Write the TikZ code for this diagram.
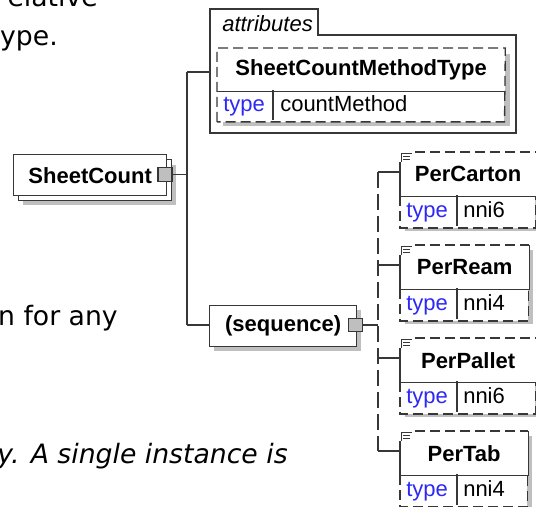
\documentclass[tikz,border=0pt]{standalone}
\usepackage{fontspec}
\setmainfont{Liberation Sans}
\newfontfamily\bodyfont{DejaVu Sans}
\usepackage{xcolor}
\usetikzlibrary{positioning, calc}

\definecolor{typeblue}{RGB}{45,40,245}
\definecolor{edgegray}{RGB}{55,55,55}

\begin{document}
\begin{tikzpicture}[
    x=0.75pt, y=-0.75pt,
    every node/.style={font=\fontsize{16.5}{19}\selectfont, inner sep=0pt},
    conn/.style={draw=edgegray, line width=1pt},
    optconn/.style={conn, dash pattern=on 12pt off 4.5pt},
    optedge/.style={draw=edgegray, line width=1pt, dash pattern=on 7.5pt off 3.75pt},
    shade/.style={fill=black!25},
    namebox/.style={rectangle, draw=edgegray, line width=1pt, fill=white,
                    font=\fontsize{16.5}{19}\selectfont\bfseries},
    rowbox/.style={rectangle, fill=white, minimum height=30*0.75pt},
    expander/.style={rectangle, draw=edgegray, line width=0.8pt, fill=black!25,
                     minimum width=10.5pt, minimum height=10pt},
    typelbl/.style={text=typeblue, anchor=base west},
    typeval/.style={anchor=base west},
    bodytxt/.style={font=\bodyfont\fontsize{20}{24}\selectfont, anchor=base east}
]
\useasboundingbox (0,0) rectangle (536,507);

% --- page text around the figure ---
\node[bodytxt] (txta) at (98,6) {elative};
\node[bodytxt] (txtb) at (58,45) {ype.};
\node[bodytxt] (txtc) at (118,325) {n for any};
\node[bodytxt, anchor=base west, font=\bodyfont\fontsize{20}{24}\selectfont\itshape]
    (txtd) at (-3,463) {y. A single instance is};

% --- SheetCount (repeated element) ---
\fill[shade] (23,165) rectangle (176,205);
\node[namebox, anchor=north west, minimum width=153*0.75pt, minimum height=41*0.75pt]
    (sheetback) at (18,159) {};
\node[namebox, anchor=north west, minimum width=153*0.75pt, minimum height=41*0.75pt]
    (sheet) at (13,154) {SheetCount};
\node[expander] (sheetx) at (165,174.5) {};

% --- attributes group ---
\draw[conn, fill=white] (210,133) |- (318,9) |- (516,35) -- (516,133) -- cycle;
\node[anchor=base west, font=\fontsize{16.5}{19}\selectfont\itshape] (attrlbl) at (222,31) {attributes};
\coordinate (attrin) at (210,72);

\fill[shade] (223,54) rectangle (510,126);
\node[namebox, draw=none, anchor=north west, minimum width=287*0.75pt, minimum height=42*0.75pt]
    (sctype) at (217,48) {SheetCountMethodType};
\node[rowbox, anchor=north west, minimum width=287*0.75pt] (sctype-row) at (sctype.south west) {};
\draw[optedge] (sctype-row.south west) |- (sctype.north east) -- (sctype-row.south east) -- cycle;
\draw[conn] (sctype.south west) -- (sctype.south east);
\draw[conn] (273,90) -- (273,120);
\node[typelbl] (sctype-tl) at (223,111) {type};
\node[typeval] (sctype-tv) at (280,111) {countMethod};

% --- sequence compositor ---
\fill[shade] (214,310) rectangle (361,351);
\node[namebox, anchor=north west, minimum width=147*0.75pt, minimum height=41*0.75pt]
    (seq) at (209,305) {(sequence)};
\node[expander] (seqx) at (355.5,325) {};

% --- connectors from SheetCount ---
\coordinate (bustop) at (187,72);
\coordinate (busmid) at (187,174.5);
\coordinate (busbot) at (187,325);
\draw[conn] (sheetx.east) -- (busmid);
\draw[conn] (bustop) -- (busbot);
\draw[conn] (bustop) -- (attrin);
\draw[conn] (busbot) -- (busbot -| seq.west);

% --- optional child elements ---
\foreach \nm/\typ/\yt/\bw in {PerCarton/nni6/152/135, PerReam/nni4/245/128,
                               PerPallet/nni6/338/135, PerTab/nni4/431/127}{
  \fill[shade] (405,\yt+5) rectangle (400+\bw+5,\yt+79);
  \node[namebox, draw=none, anchor=north west, minimum width=\bw*0.75pt, minimum height=43*0.75pt]
      (\nm) at (400,\yt) {\nm};
  \node[rowbox, anchor=north west, minimum width=\bw*0.75pt, minimum height=31*0.75pt]
      (\nm-row) at (\nm.south west) {};
  \draw[optedge] (\nm.north west) -- (\nm.north east);
  \draw[conn] (\nm.north west) -- (\nm.south west) -- (\nm.south east) -- (\nm.north east);
  \draw[optedge] (\nm-row.north west) -- (\nm-row.south west) -- (\nm-row.south east) -- (\nm-row.north east);
  \draw[conn] (457,\yt+43) -- (457,\yt+74);
  \node[typelbl] (\nm-tl) at (406,\yt+65) {type};
  \node[typeval] (\nm-tv) at (463,\yt+65) {\typ};
  % documentation mark
  \fill[white] (399,\yt-1.5) rectangle (413,\yt+10);
  \draw[edgegray, line width=0.7pt] (401,\yt+10) |- (412,\yt+1);
  \draw[edgegray, line width=0.7pt] (403,\yt+4) -- (410,\yt+4) (403,\yt+7) -- (410,\yt+7);
  \coordinate (\nm-in) at (378,\yt+20);
  \draw[conn] (\nm-in) -- (\nm-in -| \nm.west);
}
\draw[optconn] (PerCarton-in) -- (PerTab-in);
\draw[conn] (seqx.east) -- (seqx.east -| PerCarton-in);

\end{tikzpicture}
\end{document}
